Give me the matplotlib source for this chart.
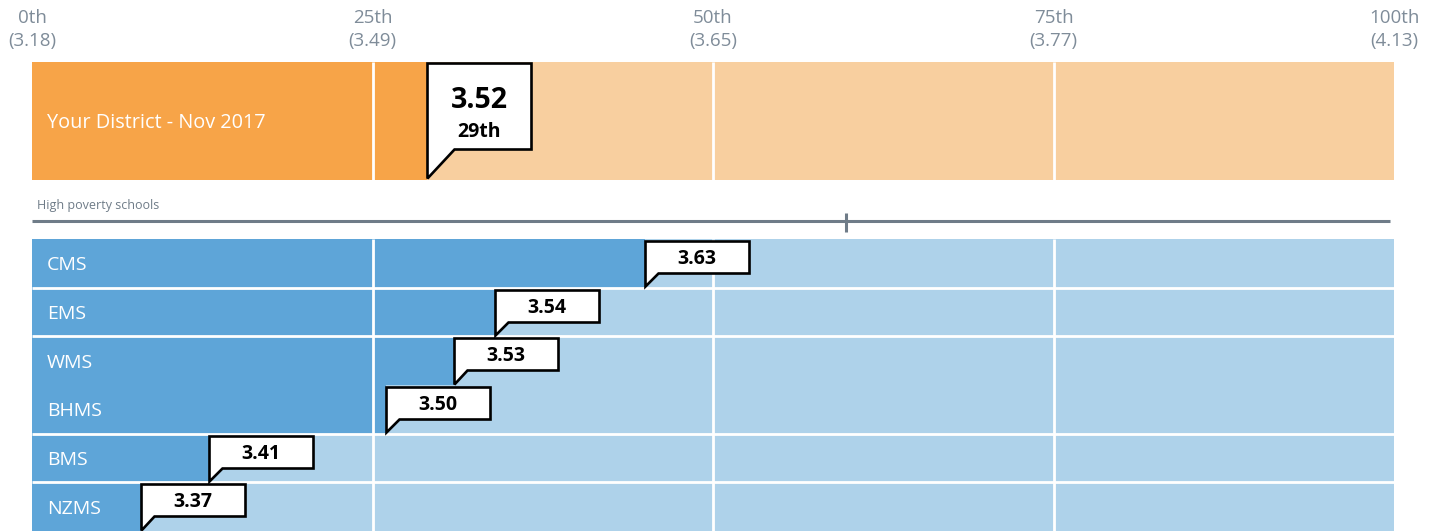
import matplotlib
matplotlib.use("Agg")
import matplotlib.pyplot as plt
from matplotlib.patches import Rectangle, Polygon

plt.rcParams['font.family'] = ['Open Sans', 'DejaVu Sans']

# percentile scale shown along the top
tick_pcts = [0, 25, 50, 75, 100]
tick_names = ["0th", "25th", "50th", "75th", "100th"]
tick_scores = ["3.18", "3.49", "3.65", "3.77", "4.13"]

# district result
district_label = "Your District - Nov 2017"
district_score = 3.52
district_pct = 29

# high poverty schools
school_names = ["CMS", "EMS", "WMS", "BHMS", "BMS", "NZMS"]
school_scores = [3.63, 3.54, 3.53, 3.50, 3.41, 3.37]
school_pcts = [45, 34, 31, 26, 13, 8]
group_label = "High poverty schools"
group_marker_pct = 59.8

ORANGE = "#f7a448"
ORANGE_LT = "#f8cf9f"
BLUE = "#5ea5d8"
BLUE_LT = "#aed2ea"
GREY = "#6f7c88"
TICK_GREY = "#7f8c99"

W, H = 1436, 531
left_px, right_px = 32, 1394
ppx = (right_px - left_px) / 100.0  # pixels per percentile

fig = plt.figure(figsize=(W / 100, H / 100), dpi=100)
ax = fig.add_axes([left_px / W, 0, (right_px - left_px) / W, 1])
ax.set_xlim(0, 100)
ax.set_ylim(H, 0)
ax.axis("off")


def px(n):
    return n / ppx


def callout(x, top, bottom, tip, width, tail_w):
    pts = [(x, tip), (x, top), (x + px(width), top), (x + px(width), bottom),
           (x + px(tail_w), bottom)]
    ax.add_patch(Polygon(pts, closed=True, facecolor="white", edgecolor="black",
                         linewidth=1.9, joinstyle="miter", zorder=5, clip_on=False))


# tick labels
for p, n, s in zip(tick_pcts, tick_names, tick_scores):
    ax.text(p, 18, n, ha="center", va="center", fontsize=13.5, color=TICK_GREY, clip_on=False)
    ax.text(p, 41, "(" + s + ")", ha="center", va="center", fontsize=13.5, color=TICK_GREY,
            clip_on=False)

# district bar
d_top, d_bot = 62, 180
ax.add_patch(Rectangle((0, d_top), 100, d_bot - d_top, color=ORANGE_LT, lw=0))
ax.add_patch(Rectangle((0, d_top), district_pct, d_bot - d_top, color=ORANGE, lw=0))
ax.vlines([25, 50, 75], d_top, d_bot, color="white", lw=2, zorder=3)
ax.text(px(15), (d_top + d_bot) / 2 + 2, district_label, ha="left", va="center",
        fontsize=14.3, color="white")
callout(district_pct, d_top + 1, 149, d_bot - 2, 104, 27)
ax.text(district_pct + px(52), 100.5, f"{district_score:.2f}", ha="center", va="center",
        fontsize=20.5, fontweight="bold", color="black", zorder=6)
ax.text(district_pct + px(52), 132, f"{district_pct}th", ha="center", va="center",
        fontsize=14, fontweight="bold", color="black", zorder=6)

# group header
ax.text(px(5), 205, group_label, ha="left", va="center", fontsize=9, color=GREY,
        family=['Liberation Sans Narrow', 'Open Sans'])
ax.plot([0, px(1390 - left_px)], [221, 221], color=GREY, lw=2.2, solid_capstyle="butt")
ax.plot([group_marker_pct, group_marker_pct], [213, 232], color=GREY, lw=2.2,
        solid_capstyle="butt")

# school rows
s_top, s_bot = 239, 531
row_h = (s_bot - s_top) / len(school_names)
ax.add_patch(Rectangle((0, s_top), 100, s_bot - s_top, color=BLUE_LT, lw=0))
for i, (name, score, pct) in enumerate(zip(school_names, school_scores, school_pcts)):
    top = s_top + i * row_h
    ax.add_patch(Rectangle((0, top), pct, row_h, color=BLUE, lw=0))
    ax.text(px(15), top + row_h / 2 + 2, name, ha="left", va="center", fontsize=14,
            color="white", zorder=4)
ax.vlines([25, 50, 75], s_top, s_bot, color="white", lw=2, zorder=3)
# row separators (WMS and BHMS share one band)
for i in [1, 2, 4, 5]:
    y = s_top + i * row_h
    ax.hlines(y, 0, 100, color="white", lw=2, zorder=3)
for i, (score, pct) in enumerate(zip(school_scores, school_pcts)):
    top = s_top + i * row_h
    callout(pct, top + 2, top + 34, top + row_h - 1.5, 104, 13)
    ax.text(pct + px(52), top + 20, f"{score:.2f}", ha="center", va="center",
            fontsize=14, fontweight="bold", color="black", zorder=6)

fig.savefig("out.png", dpi=100)
